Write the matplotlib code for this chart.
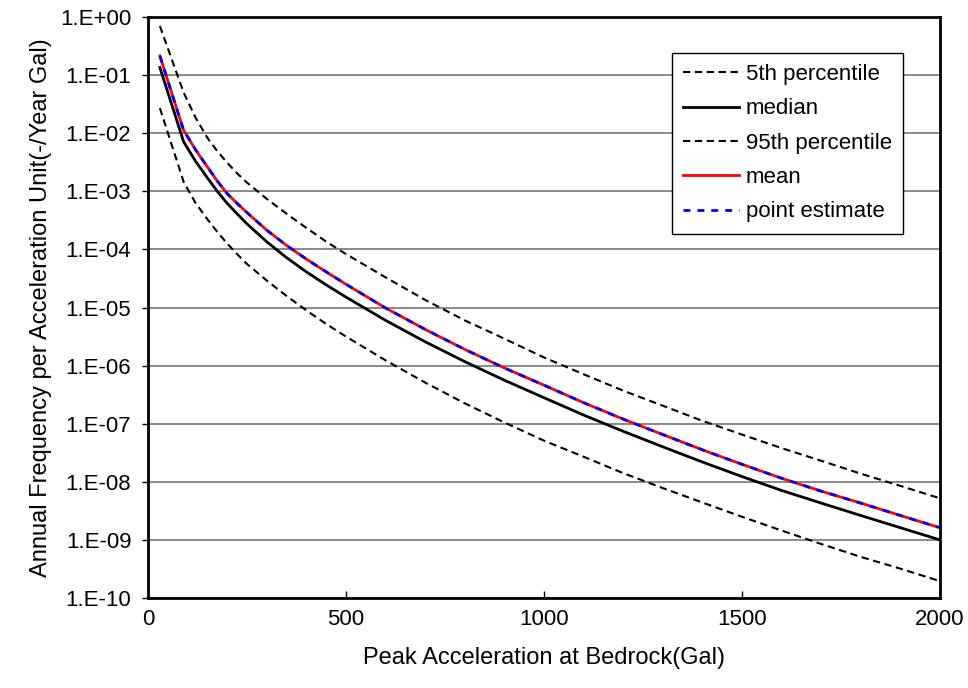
import math

import matplotlib
matplotlib.use("Agg")
import matplotlib.pyplot as plt
from matplotlib.ticker import FixedLocator, FuncFormatter, NullLocator

plt.rcParams["font.family"] = ["Liberation Sans", "DejaVu Sans"]

# peak acceleration (Gal)
accel = [30, 90, 120, 150, 175, 200, 225, 250, 300, 350, 400, 450, 500, 600, 700,
         800, 900, 1000, 1100, 1200, 1300, 1400, 1500, 1600, 1700, 1800, 1900, 2000]

p05 = [2.7e-2, 1.45e-3, 6.3e-4, 3.3e-4, 2.0e-4, 1.26e-4, 8.3e-5, 5.6e-5, 2.9e-5,
       1.58e-5, 8.9e-6, 5.2e-6, 3.16e-6, 1.23e-6, 5.1e-7, 2.24e-7, 1.05e-7, 5.1e-8,
       2.7e-8, 1.41e-8, 7.8e-9, 4.4e-9, 2.5e-9, 1.45e-9, 8.5e-10, 5.1e-10, 3.2e-10,
       1.95e-10]
median = [1.35e-1, 7.1e-3, 3.3e-3, 1.7e-3, 1.0e-3, 6.2e-4, 4.1e-4, 2.75e-4, 1.35e-4,
          7.2e-5, 4.1e-5, 2.45e-5, 1.51e-5, 6.0e-6, 2.57e-6, 1.17e-6, 5.6e-7, 2.8e-7,
          1.41e-7, 7.4e-8, 4.0e-8, 2.19e-8, 1.23e-8, 7.1e-9, 4.3e-9, 2.63e-9, 1.62e-9,
          1.0e-9]
p95 = [7.0e-1, 5.0e-2, 1.86e-2, 8.3e-3, 4.9e-3, 3.1e-3, 2.04e-3, 1.41e-3, 7.4e-4,
       4.1e-4, 2.34e-4, 1.36e-4, 8.3e-5, 3.3e-5, 1.35e-5, 6.0e-6, 2.9e-6, 1.38e-6,
       7.1e-7, 3.7e-7, 2.04e-7, 1.12e-7, 6.5e-8, 3.8e-8, 2.3e-8, 1.38e-8, 8.5e-9,
       5.2e-9]
mean = [2.14e-1, 1.12e-2, 5.2e-3, 2.63e-3, 1.5e-3, 9.1e-4, 6.2e-4, 4.3e-4, 2.14e-4,
        1.17e-4, 6.8e-5, 4.1e-5, 2.51e-5, 9.8e-6, 4.2e-6, 1.9e-6, 9.1e-7, 4.6e-7,
        2.3e-7, 1.2e-7, 6.5e-8, 3.55e-8, 2.0e-8, 1.15e-8, 6.9e-9, 4.3e-9, 2.63e-9,
        1.62e-9]
point_est = [2.14e-1, 1.12e-2, 5.2e-3, 2.63e-3, 1.5e-3, 9.1e-4, 6.2e-4, 4.3e-4, 2.14e-4,
             1.17e-4, 6.8e-5, 4.1e-5, 2.51e-5, 9.8e-6, 4.2e-6, 1.9e-6, 9.1e-7, 4.6e-7,
             2.3e-7, 1.2e-7, 6.5e-8, 3.55e-8, 2.0e-8, 1.15e-8, 6.9e-9, 4.3e-9, 2.63e-9,
             1.62e-9]

x_ticks = [0, 500, 1000, 1500, 2000]
y_ticks = [10.0 ** k for k in range(-10, 1)]

fig = plt.figure(figsize=(9.68, 6.88), dpi=100)
ax = fig.add_axes([0.1529, 0.1308, 0.8182, 0.8445])

dash = (0, (3.5, 2.2))
ax.plot(accel, p05, color="black", lw=1.5, ls=dash, label="5th percentile")
ax.plot(accel, median, color="black", lw=2, label="median")
ax.plot(accel, p95, color="black", lw=1.5, ls=dash, label="95th percentile")
ax.plot(accel, mean, color="#ff0000", lw=2, label="mean")
ax.plot(accel, point_est, color="#0000ff", lw=2, ls=(0, (2.5, 2.5)), label="point estimate")

ax.set_yscale("log")
ax.set_xlim(0, 2000)
ax.set_ylim(1e-10, 1)
ax.xaxis.set_major_locator(FixedLocator(x_ticks))
ax.yaxis.set_major_locator(FixedLocator(y_ticks))
ax.yaxis.set_minor_locator(NullLocator())
ax.yaxis.set_major_formatter(FuncFormatter(lambda v, p: "1.E%+03d" % round(math.log10(v))))

ax.grid(True, axis="y", color="#808080", lw=1.3)
ax.set_axisbelow(True)
for s in ax.spines.values():
    s.set_linewidth(2)
ax.tick_params(axis="x", direction="in", length=5, width=1, labelsize=16, pad=8)
ax.tick_params(axis="y", direction="out", length=4, width=1, labelsize=16, pad=8)

ax.set_xlabel("Peak Acceleration at Bedrock(Gal)", fontsize=17, labelpad=12)
ax.set_ylabel("Annual Frequency per Acceleration Unit(-/Year Gal)", fontsize=17, labelpad=6)

leg = ax.legend(loc="upper right", bbox_to_anchor=(0.953, 0.938), borderaxespad=0,
                fontsize=16, frameon=True, fancybox=False, framealpha=1,
                edgecolor="black", handlelength=2.5, labelspacing=0.6,
                borderpad=0.5, handletextpad=0.3)
leg.get_frame().set_linewidth(1)

fig.savefig("out.png", dpi=100)
